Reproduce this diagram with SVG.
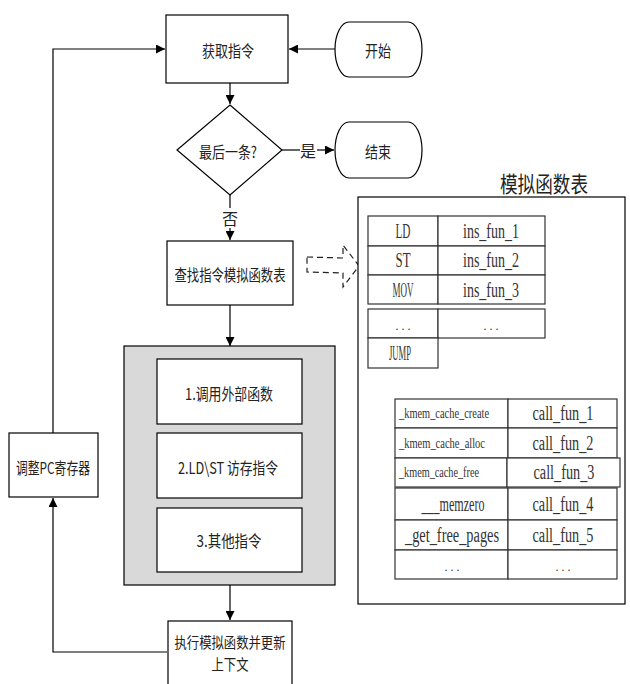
<svg xmlns="http://www.w3.org/2000/svg" width="630" height="684" viewBox="0 0 630 684">
<style>
.box{fill:#fff;stroke:#000;stroke-width:1.2}
.ln{fill:none;stroke:#000;stroke-width:1.2}
.cell{fill:#fff;stroke:#333;stroke-width:1.2}
.cn{font-family:"Noto Sans CJK SC","Noto Sans",sans-serif;font-size:16px;fill:#222;text-anchor:middle;dominant-baseline:central}
.la{font-family:"Liberation Serif","DejaVu Serif",serif;font-size:20px;fill:#333;text-anchor:middle;dominant-baseline:central}
.sm{font-family:"Liberation Serif","DejaVu Serif",serif;font-size:15px;fill:#333;dominant-baseline:central}
.dots{font-family:"Liberation Serif",serif;font-size:12px;fill:#333;text-anchor:middle;dominant-baseline:central}
</style>
<defs>
<marker id="ah" viewBox="0 0 10 10" refX="10" refY="5" markerWidth="9" markerHeight="9" markerUnits="userSpaceOnUse" orient="auto">
<path d="M0,0 L10,5 L0,10 Z" fill="#000"/>
</marker>
</defs>
<g id="connectors">
<line class="ln" x1="335" y1="49" x2="289" y2="49" marker-end="url(#ah)"/>
<polyline class="ln" points="53,433 53,49 165,49" marker-end="url(#ah)"/>
<line class="ln" x1="230" y1="83" x2="230" y2="104" marker-end="url(#ah)"/>
<line class="ln" x1="282" y1="150" x2="300" y2="150"/>
<line class="ln" x1="317" y1="150" x2="334" y2="150" marker-end="url(#ah)"/>
<text class="cn" x="308" y="150">是</text>
<line class="ln" x1="230" y1="195" x2="230" y2="208"/>
<text class="cn" x="230" y="218">否</text>
<line class="ln" x1="230" y1="228" x2="230" y2="240" marker-end="url(#ah)"/>
<line class="ln" x1="230" y1="305" x2="230" y2="346" marker-end="url(#ah)"/>
<line class="ln" x1="230" y1="585" x2="230" y2="620" marker-end="url(#ah)"/>
<polyline class="ln" points="167,652 53,652 53,498" marker-end="url(#ah)"/>
<polygon points="307,257 343,258 343,245 359,266 343,287 343,273 307,272" fill="none" stroke="#222" stroke-width="1.2" stroke-dasharray="6,4"/>
<polyline class="ln" points="404,368 404,383 384,383 384,473 395,473" marker-end="url(#ah)"/>
</g>
<g id="fetch">
<rect class="box" x="166" y="15" width="122" height="68"/>
<text class="cn" x="228" y="50" textLength="52" lengthAdjust="spacingAndGlyphs">获取指令</text>
</g>
<g id="start">
<rect class="box" x="335" y="22" width="87" height="55" rx="14" ry="27.5"/>
<text class="cn" x="378" y="50" textLength="26" lengthAdjust="spacingAndGlyphs">开始</text>
</g>
<g id="decision">
<polygon class="box" points="230,105 282,150 230,195 177,150"/>
<text class="cn" x="228" y="151" textLength="58" lengthAdjust="spacingAndGlyphs">最后一条?</text>
</g>
<g id="end">
<rect class="box" x="335" y="122" width="87" height="56" rx="14" ry="28"/>
<text class="cn" x="378" y="151" textLength="26" lengthAdjust="spacingAndGlyphs">结束</text>
</g>
<g id="lookup">
<rect class="box" x="167" y="241" width="126" height="64"/>
<text class="cn" x="230" y="274" textLength="111" lengthAdjust="spacingAndGlyphs">查找指令模拟函数表</text>
</g>
<g id="exec-group">
<rect x="124" y="346" width="211" height="239" fill="#d9d9d9" stroke="#000" stroke-width="1.2"/>
<rect class="box" x="157" y="359" width="145" height="65"/>
<text class="cn" x="229" y="393" textLength="88" lengthAdjust="spacingAndGlyphs">1.调用外部函数</text>
<rect class="box" x="157" y="433" width="145" height="65"/>
<text class="cn" x="228" y="467" textLength="100" lengthAdjust="spacingAndGlyphs">2.LD\ST 访存指令</text>
<rect class="box" x="157" y="508" width="145" height="64"/>
<text class="cn" x="229" y="540" textLength="65" lengthAdjust="spacingAndGlyphs">3.其他指令</text>
</g>
<g id="execute">
<rect class="box" x="168" y="621" width="124" height="80"/>
<text class="cn" x="230" y="641" style="font-size:15px" textLength="111" lengthAdjust="spacingAndGlyphs">执行模拟函数并更新</text>
<text class="cn" x="230" y="663" style="font-size:15px" textLength="37" lengthAdjust="spacingAndGlyphs">上下文</text>
</g>
<g id="adjust-pc">
<rect class="box" x="9" y="433" width="89" height="64"/>
<text class="cn" x="53" y="467" textLength="74" lengthAdjust="spacingAndGlyphs">调整PC寄存器</text>
</g>
<g id="sim-table">
<text class="cn" x="544" y="182" style="font-size:22px" textLength="88" lengthAdjust="spacingAndGlyphs">模拟函数表</text>
<rect class="box" x="358" y="197" width="267" height="407"/>
<rect class="cell" x="368" y="216" width="70" height="30"/>
<rect class="cell" x="438" y="216" width="107" height="30"/>
<rect class="cell" x="368" y="246" width="70" height="29"/>
<rect class="cell" x="438" y="246" width="107" height="29"/>
<rect class="cell" x="368" y="275" width="70" height="29"/>
<rect class="cell" x="438" y="275" width="107" height="29"/>
<rect class="cell" x="368" y="309" width="70" height="29"/>
<rect class="cell" x="438" y="309" width="107" height="29"/>
<rect class="cell" x="368" y="338" width="70" height="30"/>
<text class="la" x="403" y="231" textLength="15" lengthAdjust="spacingAndGlyphs">LD</text>
<text class="la" x="491" y="231" textLength="56" lengthAdjust="spacingAndGlyphs">ins_fun_1</text>
<text class="la" x="403" y="260" textLength="15" lengthAdjust="spacingAndGlyphs">ST</text>
<text class="la" x="491" y="260" textLength="56" lengthAdjust="spacingAndGlyphs">ins_fun_2</text>
<text class="la" x="403" y="290" textLength="21" lengthAdjust="spacingAndGlyphs">MOV</text>
<text class="la" x="491" y="290" textLength="56" lengthAdjust="spacingAndGlyphs">ins_fun_3</text>
<text class="dots" x="403" y="326">. . .</text>
<text class="dots" x="491" y="326">. . .</text>
<text class="la" x="400" y="353" textLength="22" lengthAdjust="spacingAndGlyphs">JUMP</text>
<rect class="cell" x="395" y="399" width="113" height="29"/>
<rect class="cell" x="508" y="399" width="109" height="29"/>
<rect class="cell" x="395" y="428" width="113" height="30"/>
<rect class="cell" x="508" y="428" width="109" height="30"/>
<rect class="cell" x="395" y="458" width="112" height="29"/>
<rect class="cell" x="507" y="458" width="113" height="29"/>
<rect class="cell" x="395" y="488" width="113" height="32"/>
<rect class="cell" x="508" y="488" width="109" height="32"/>
<rect class="cell" x="395" y="520" width="113" height="30"/>
<rect class="cell" x="508" y="520" width="109" height="30"/>
<rect class="cell" x="395" y="550" width="113" height="29"/>
<rect class="cell" x="508" y="550" width="109" height="29"/>
<text class="sm" x="399" y="413" textLength="90" lengthAdjust="spacingAndGlyphs">_kmem_cache_create</text>
<text class="sm" x="399" y="443" textLength="86" lengthAdjust="spacingAndGlyphs">_kmem_cache_alloc</text>
<text class="sm" x="399" y="472" textLength="80" lengthAdjust="spacingAndGlyphs">_kmem_cache_free</text>
<text class="la" x="563" y="413" textLength="61" lengthAdjust="spacingAndGlyphs">call_fun_1</text>
<text class="la" x="563" y="443" textLength="61" lengthAdjust="spacingAndGlyphs">call_fun_2</text>
<text class="la" x="564" y="472" textLength="61" lengthAdjust="spacingAndGlyphs">call_fun_3</text>
<text class="la" x="563" y="504" textLength="61" lengthAdjust="spacingAndGlyphs">call_fun_4</text>
<text class="la" x="563" y="535" textLength="61" lengthAdjust="spacingAndGlyphs">call_fun_5</text>
<text class="la" x="453" y="504" textLength="63" lengthAdjust="spacingAndGlyphs">___memzero</text>
<text class="la" x="452" y="535" textLength="94" lengthAdjust="spacingAndGlyphs">_get_free_pages</text>
<text class="dots" x="452" y="567">. . .</text>
<text class="dots" x="563" y="567">. . .</text>
</g>
</svg>
